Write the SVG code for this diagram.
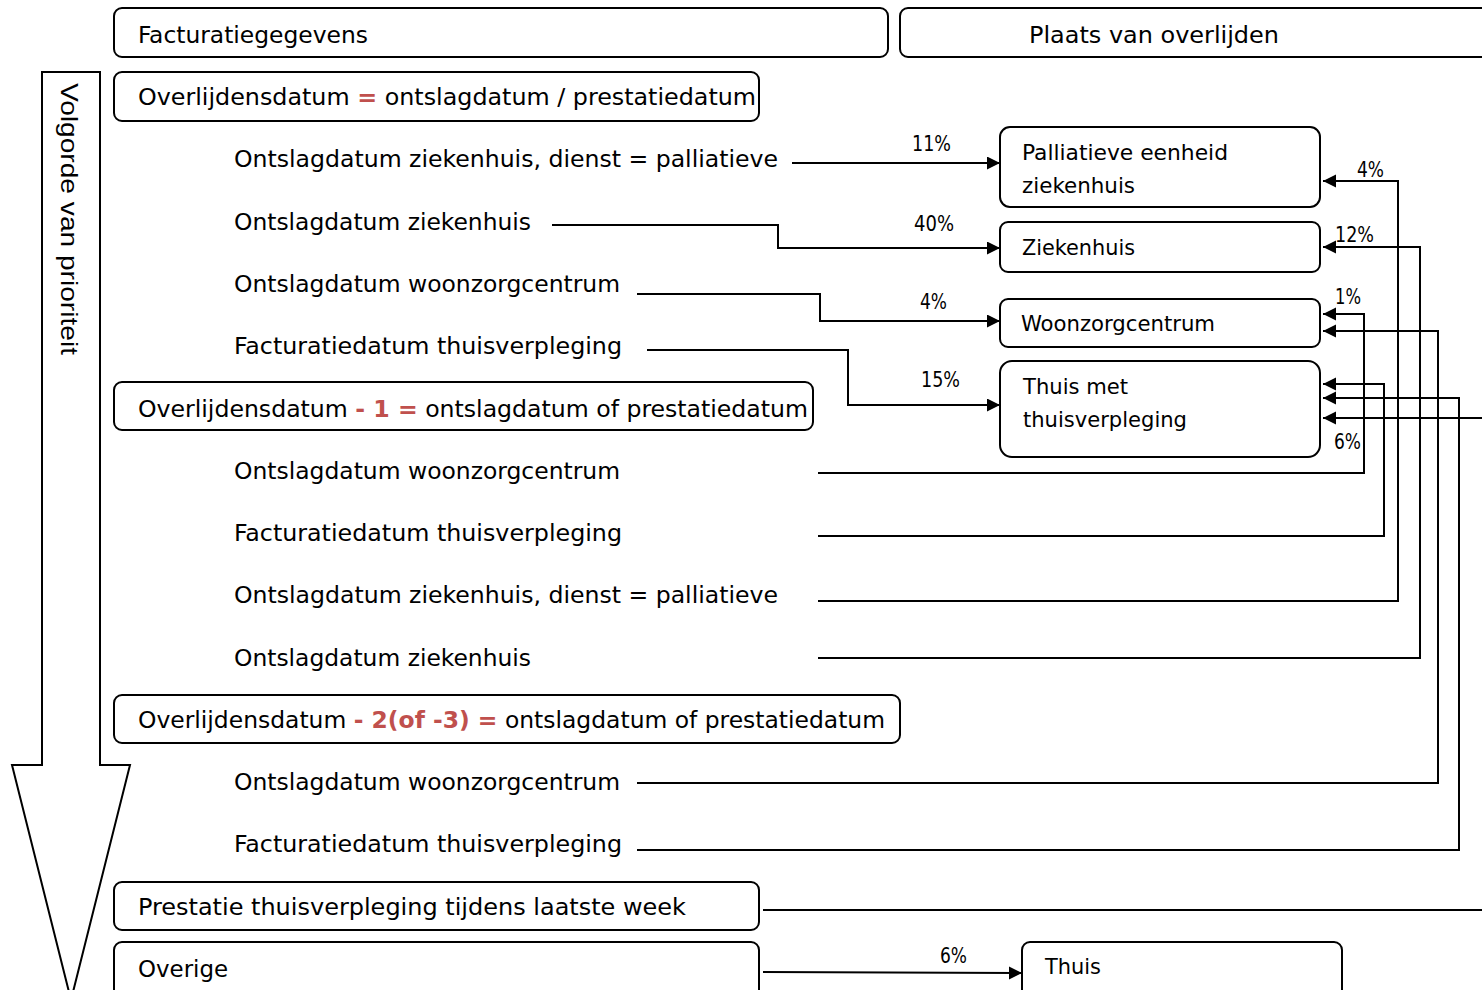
<svg xmlns="http://www.w3.org/2000/svg" width="1482" height="990" viewBox="0 0 1482 990">
<style>
.box{fill:#fff;stroke:#000;stroke-width:2}
.t{font-family:"DejaVu Sans Condensed","DejaVu Sans",sans-serif;font-size:23px;fill:#000}
.n{font-family:"DejaVu Sans Condensed","DejaVu Sans",sans-serif;font-size:21px;fill:#000}
.p{font-family:"DejaVu Sans Condensed","DejaVu Sans",sans-serif;font-size:21px;fill:#000}
.r{fill:#c0504d;font-weight:bold}
.c{fill:none;stroke:#000;stroke-width:2}
</style>
<defs>
<marker id="ah" markerUnits="userSpaceOnUse" markerWidth="14" markerHeight="14" refX="13" refY="6.5" orient="auto">
<path d="M0,0 L13,6.5 L0,13 z" fill="#000"/>
</marker>
</defs>
<rect width="1482" height="990" fill="#fff"/>

<g id="priority-arrow">
<polygon points="42,72 100,72 100,765 130,765 71,1000 12,765 42,765" fill="#fff" stroke="#000" stroke-width="2"/>
<text transform="translate(61,83) rotate(90)" font-family="Liberation Sans, Arial, sans-serif" font-size="24" textLength="272" lengthAdjust="spacingAndGlyphs">Volgorde van prioriteit</text>
</g>

<g id="hdr-facturatie"><rect class="box" x="114" y="8" width="774" height="49" rx="8"/><text class="t" x="138" y="43" textLength="230" lengthAdjust="spacingAndGlyphs">Facturatiegegevens</text></g>
<g id="hdr-plaats"><rect class="box" x="900" y="8" width="600" height="49" rx="8"/><text class="t" x="1029" y="43" textLength="250" lengthAdjust="spacingAndGlyphs">Plaats van overlijden</text></g>

<g id="cat-0"><rect class="box" x="114" y="72" width="645" height="49" rx="8"/><text class="t" x="138" y="105" textLength="618" lengthAdjust="spacingAndGlyphs">Overlijdensdatum <tspan class="r">=</tspan> ontslagdatum / prestatiedatum</text></g>
<g id="s0-pal"><text class="t" x="234" y="167" textLength="544" lengthAdjust="spacingAndGlyphs">Ontslagdatum ziekenhuis, dienst = palliatieve</text></g>
<g id="s0-zh"><text class="t" x="234" y="230" textLength="297" lengthAdjust="spacingAndGlyphs">Ontslagdatum ziekenhuis</text></g>
<g id="s0-wzc"><text class="t" x="234" y="292" textLength="386" lengthAdjust="spacingAndGlyphs">Ontslagdatum woonzorgcentrum</text></g>
<g id="s0-tv"><text class="t" x="234" y="354" textLength="388" lengthAdjust="spacingAndGlyphs">Facturatiedatum thuisverpleging</text></g>

<g id="cat-1"><rect class="box" x="114" y="382" width="699" height="48" rx="8"/><text class="t" x="138" y="417" textLength="670" lengthAdjust="spacingAndGlyphs">Overlijdensdatum <tspan class="r">- 1 =</tspan> ontslagdatum of prestatiedatum</text></g>
<g id="s1-wzc"><text class="t" x="234" y="479" textLength="386" lengthAdjust="spacingAndGlyphs">Ontslagdatum woonzorgcentrum</text></g>
<g id="s1-tv"><text class="t" x="234" y="541" textLength="388" lengthAdjust="spacingAndGlyphs">Facturatiedatum thuisverpleging</text></g>
<g id="s1-pal"><text class="t" x="234" y="603" textLength="544" lengthAdjust="spacingAndGlyphs">Ontslagdatum ziekenhuis, dienst = palliatieve</text></g>
<g id="s1-zh"><text class="t" x="234" y="666" textLength="297" lengthAdjust="spacingAndGlyphs">Ontslagdatum ziekenhuis</text></g>

<g id="cat-2"><rect class="box" x="114" y="695" width="786" height="48" rx="8"/><text class="t" x="138" y="728" textLength="747" lengthAdjust="spacingAndGlyphs">Overlijdensdatum <tspan class="r">- 2(of -3) =</tspan> ontslagdatum of prestatiedatum</text></g>
<g id="s2-wzc"><text class="t" x="234" y="790" textLength="386" lengthAdjust="spacingAndGlyphs">Ontslagdatum woonzorgcentrum</text></g>
<g id="s2-tv"><text class="t" x="234" y="852" textLength="388" lengthAdjust="spacingAndGlyphs">Facturatiedatum thuisverpleging</text></g>

<g id="cat-prestatie"><rect class="box" x="114" y="882" width="645" height="48" rx="8"/><text class="t" x="138" y="915" textLength="548" lengthAdjust="spacingAndGlyphs">Prestatie thuisverpleging tijdens laatste week</text></g>
<g id="cat-overige"><rect class="box" x="114" y="942" width="645" height="60" rx="8"/><text class="t" x="138" y="977" textLength="90" lengthAdjust="spacingAndGlyphs">Overige</text></g>

<g id="dest-pal"><rect class="box" x="1000" y="127" width="320" height="80" rx="10"/><text class="n" x="1022" y="160" textLength="206" lengthAdjust="spacingAndGlyphs">Palliatieve eenheid</text><text class="n" x="1022" y="193" textLength="113" lengthAdjust="spacingAndGlyphs">ziekenhuis</text></g>
<g id="dest-zh"><rect class="box" x="1000" y="222" width="320" height="50" rx="8"/><text class="n" x="1022" y="255" textLength="113" lengthAdjust="spacingAndGlyphs">Ziekenhuis</text></g>
<g id="dest-wzc"><rect class="box" x="1000" y="299" width="320" height="48" rx="8"/><text class="n" x="1021" y="331" textLength="194" lengthAdjust="spacingAndGlyphs">Woonzorgcentrum</text></g>
<g id="dest-tv"><rect class="box" x="1000" y="361" width="320" height="96" rx="12"/><text class="n" x="1023" y="394" textLength="105" lengthAdjust="spacingAndGlyphs">Thuis met</text><text class="n" x="1023" y="427" textLength="164" lengthAdjust="spacingAndGlyphs">thuisverpleging</text></g>
<g id="dest-thuis"><rect class="box" x="1022" y="942" width="320" height="60" rx="8"/><text class="n" x="1045" y="974" textLength="56" lengthAdjust="spacingAndGlyphs">Thuis</text></g>

<g id="connectors">
<path class="c" marker-end="url(#ah)" d="M792,163 H1000"/>
<path class="c" marker-end="url(#ah)" d="M552,225 H778 V248 H1000"/>
<path class="c" marker-end="url(#ah)" d="M637,294 H820 V321 H1000"/>
<path class="c" marker-end="url(#ah)" d="M647,350 H848 V405 H1000"/>
<path class="c" marker-end="url(#ah)" d="M818,473 H1364 V314 H1323"/>
<path class="c" marker-end="url(#ah)" d="M818,536 H1384 V384 H1323"/>
<path class="c" marker-end="url(#ah)" d="M818,601 H1398 V181 H1323"/>
<path class="c" marker-end="url(#ah)" d="M818,658 H1420 V247 H1323"/>
<path class="c" marker-end="url(#ah)" d="M637,783 H1438 V331 H1323"/>
<path class="c" marker-end="url(#ah)" d="M637,850 H1459 V398 H1323"/>
<path class="c" d="M763,910 H1490"/>
<path class="c" marker-end="url(#ah)" d="M1490,418 H1323"/>
<path class="c" marker-end="url(#ah)" d="M763,972 L1022,973"/>
<text class="p" x="912" y="151" textLength="39" lengthAdjust="spacingAndGlyphs">11%</text>
<text class="p" x="914" y="231" textLength="40" lengthAdjust="spacingAndGlyphs">40%</text>
<text class="p" x="920" y="309" textLength="27" lengthAdjust="spacingAndGlyphs">4%</text>
<text class="p" x="921" y="387" textLength="39" lengthAdjust="spacingAndGlyphs">15%</text>
<text class="p" x="1357" y="177" textLength="27" lengthAdjust="spacingAndGlyphs">4%</text>
<text class="p" x="1335" y="242" textLength="39" lengthAdjust="spacingAndGlyphs">12%</text>
<text class="p" x="1335" y="304" textLength="26" lengthAdjust="spacingAndGlyphs">1%</text>
<text class="p" x="1334" y="449" textLength="27" lengthAdjust="spacingAndGlyphs">6%</text>
<text class="p" x="940" y="963" textLength="27" lengthAdjust="spacingAndGlyphs">6%</text>
</g>
</svg>
